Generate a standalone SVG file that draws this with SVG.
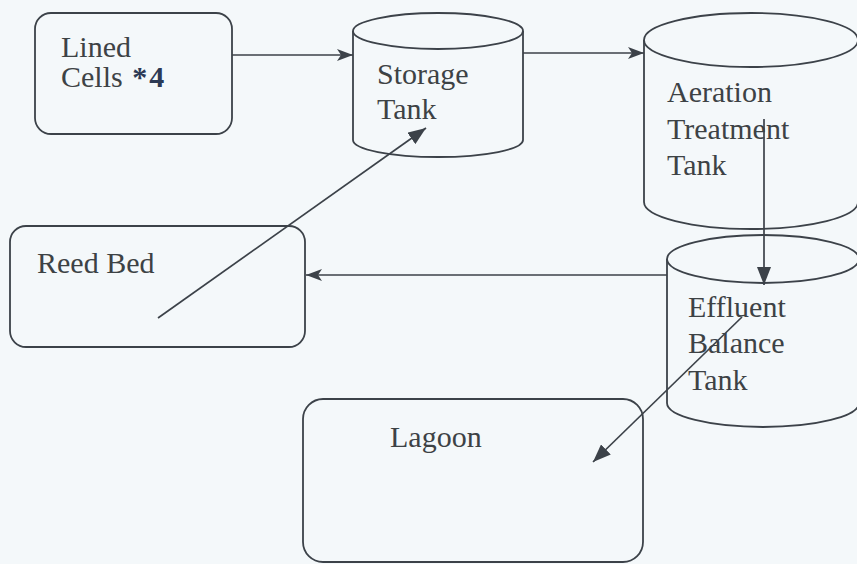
<svg xmlns="http://www.w3.org/2000/svg" width="857" height="564" viewBox="0 0 857 564">
<defs>
<style>
.bg{fill:#f4f8fa}
.shape{fill:#f4f8fa;stroke:#3c4249;stroke-width:1.8}
.lbl{font-family:"Liberation Serif","Times New Roman",serif;font-size:30px;fill:#3d4245}
.bold{font-weight:bold;fill:#2c3a55}
.conn{fill:none;stroke:#3c4249;stroke-width:1.7}
</style>
<marker id="ah" viewBox="0 0 16 12" refX="16" refY="6" markerWidth="16" markerHeight="12" markerUnits="userSpaceOnUse" orient="auto">
<path d="M0,0 L16,6 L0,12 L4,6 z" fill="#3c4249"/>
</marker>
<marker id="ahb" viewBox="0 0 18 14" refX="18" refY="7" markerWidth="18" markerHeight="14" markerUnits="userSpaceOnUse" orient="auto">
<path d="M0,0 L18,7 L0,14 z" fill="#3c4249"/>
</marker>
</defs>
<rect class="bg" x="0" y="0" width="857" height="564"/>

<g id="lined-cells">
<rect class="shape" x="35" y="13" width="197" height="121" rx="16"/>
<text class="lbl" x="61" y="57">Lined</text>
<text class="lbl" x="61" y="87">Cells <tspan class="bold" dx="2">*</tspan><tspan class="bold" dx="2">4</tspan></text>
</g>

<g id="storage-tank">
<path class="shape" d="M353,31 V140 A85,17 0 0 0 523,140 V31"/>
<ellipse class="shape" cx="438" cy="31" rx="85" ry="18"/>
<text class="lbl" x="377" y="84">Storage</text>
<text class="lbl" x="377" y="119">Tank</text>
</g>

<g id="aeration-tank">
<path class="shape" d="M644,40 V202 A107,27 0 0 0 858,202 V40"/>
<ellipse class="shape" cx="751" cy="40" rx="107" ry="27"/>
<text class="lbl" x="667" y="102">Aeration</text>
<text class="lbl" x="667" y="139">Treatment</text>
<text class="lbl" x="667" y="175">Tank</text>
</g>

<g id="effluent-tank">
<path class="shape" d="M667,259 V403 A96,24 0 0 0 859,403 V259"/>
<ellipse class="shape" cx="763" cy="259" rx="96" ry="24"/>
<text class="lbl" x="688" y="317">Effluent</text>
<text class="lbl" x="688" y="353">Balance</text>
<text class="lbl" x="688" y="390">Tank</text>
</g>

<g id="reed-bed">
<rect class="shape" x="10" y="226" width="295" height="121" rx="16"/>
<text class="lbl" x="37" y="273">Reed Bed</text>
</g>

<g id="lagoon">
<rect class="shape" x="303" y="399" width="340" height="163" rx="20"/>
<text class="lbl" x="390" y="447">Lagoon</text>
</g>

<g id="connectors">
<line class="conn" x1="232" y1="55" x2="353" y2="55" marker-end="url(#ah)"/>
<line class="conn" x1="523" y1="53" x2="644" y2="53" marker-end="url(#ah)"/>
<line class="conn" x1="764" y1="119" x2="764" y2="285" marker-end="url(#ahb)"/>
<line class="conn" x1="667" y1="275" x2="306" y2="275" marker-end="url(#ah)"/>
<line class="conn" x1="158" y1="318" x2="426" y2="128" marker-end="url(#ahb)"/>
<line class="conn" x1="742" y1="317" x2="593" y2="462" marker-end="url(#ahb)"/>
</g>
</svg>
